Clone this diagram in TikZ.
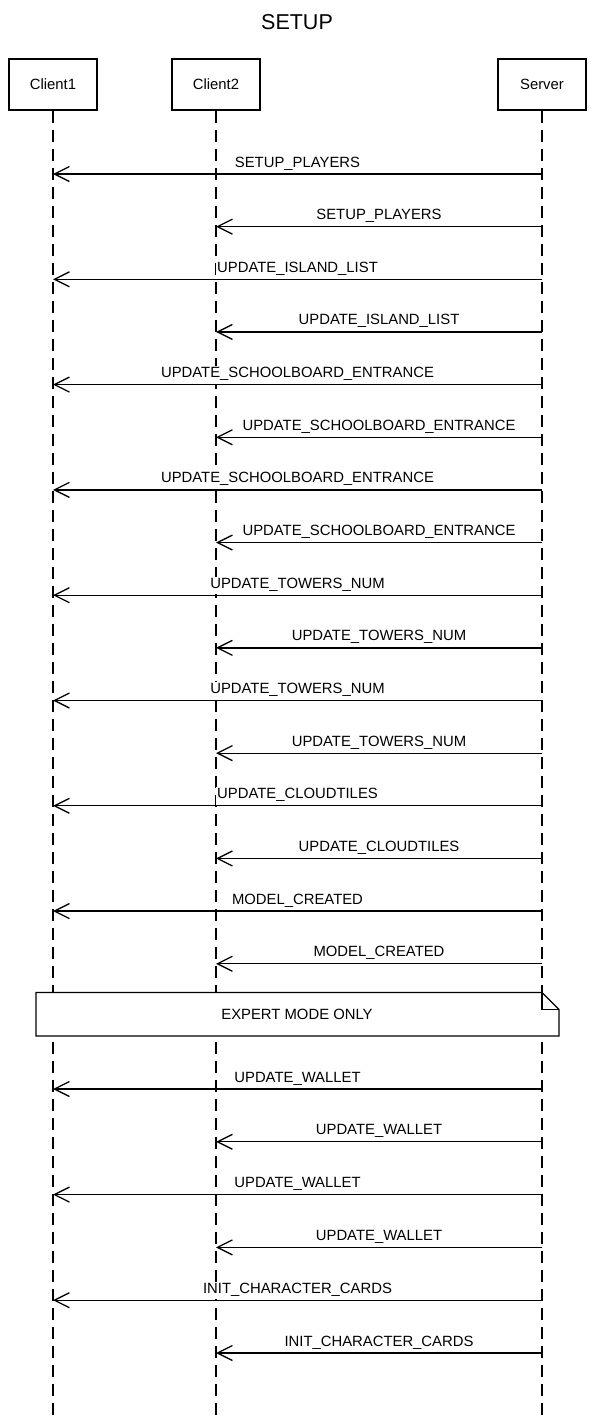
\documentclass[tikz,border=0pt]{standalone}
\usepackage{fontspec}
\setmainfont{Liberation Sans}
\usetikzlibrary{arrows.meta}
\def\lifeend{1418}
\def\txtsize{\fontsize{14.85}{17}\selectfont}
\tikzset{
  actor/.style={draw,line width=2.2pt,minimum width=88pt,minimum height=51pt,font=\txtsize},
  lifeline/.style={line width=1.3pt,dash pattern=on 12pt off 7pt},
  msg/.style={line width=1.3pt,-{Straight Barb[length=15pt,width=15pt,line width=1.3pt]}},
  msglabel/.style={midway,anchor=base,yshift=7pt,inner sep=1pt,text depth=5pt,fill=white,font=\txtsize},
  notebox/.style={fill=white,draw,line width=1.3pt,line join=miter}
}

\begin{document}
\begin{tikzpicture}[x=1pt,y=-1pt]
    \useasboundingbox (0,0) rectangle (594,1418);
    \node[anchor=base,inner sep=0pt,font=\fontsize{21.5}{24}\selectfont] (title) at (297,29.3) {SETUP};
    % participants
    \node[actor] (client1) at (53,84.5) {Client1};
    \node[actor] (client2) at (216,84.5) {Client2};
    \node[actor] (server) at (542,84.5) {Server};
    \foreach \a in {client1,client2,server}
        \draw[lifeline] (\a.south) -- (\a.south |- 0,\lifeend);
    % setup messages
    \foreach \txt/\dst [count=\i from 0] in {
        SETUP\_PLAYERS/client1, SETUP\_PLAYERS/client2,
        UPDATE\_ISLAND\_LIST/client1, UPDATE\_ISLAND\_LIST/client2,
        UPDATE\_SCHOOLBOARD\_ENTRANCE/client1, UPDATE\_SCHOOLBOARD\_ENTRANCE/client2,
        UPDATE\_SCHOOLBOARD\_ENTRANCE/client1, UPDATE\_SCHOOLBOARD\_ENTRANCE/client2,
        UPDATE\_TOWERS\_NUM/client1, UPDATE\_TOWERS\_NUM/client2,
        UPDATE\_TOWERS\_NUM/client1, UPDATE\_TOWERS\_NUM/client2,
        UPDATE\_CLOUDTILES/client1, UPDATE\_CLOUDTILES/client2,
        MODEL\_CREATED/client1, MODEL\_CREATED/client2} {
        \pgfmathsetmacro\y{174+52.65*\i}
        \draw[msg] (server |- 0,\y) -- node[msglabel] {\txt} (\dst |- 0,\y);
    }
    % expert mode note
    \filldraw[notebox] (36,992.5) -- (542,992.5) -- (559,1009.5) -- (559,1036) -- (36,1036) -- cycle;
    \draw[line width=1.3pt] (542,992.5) |- (559,1009.5);
    \node[font=\txtsize] (expert) at (297,1014.5) {EXPERT MODE ONLY};
    \foreach \txt/\dst [count=\i from 0] in {
        UPDATE\_WALLET/client1, UPDATE\_WALLET/client2,
        UPDATE\_WALLET/client1, UPDATE\_WALLET/client2,
        INIT\_CHARACTER\_CARDS/client1, INIT\_CHARACTER\_CARDS/client2} {
        \pgfmathsetmacro\y{1089+52.8*\i}
        \draw[msg] (server |- 0,\y) -- node[msglabel] {\txt} (\dst |- 0,\y);
    }
\end{tikzpicture}
\end{document}
